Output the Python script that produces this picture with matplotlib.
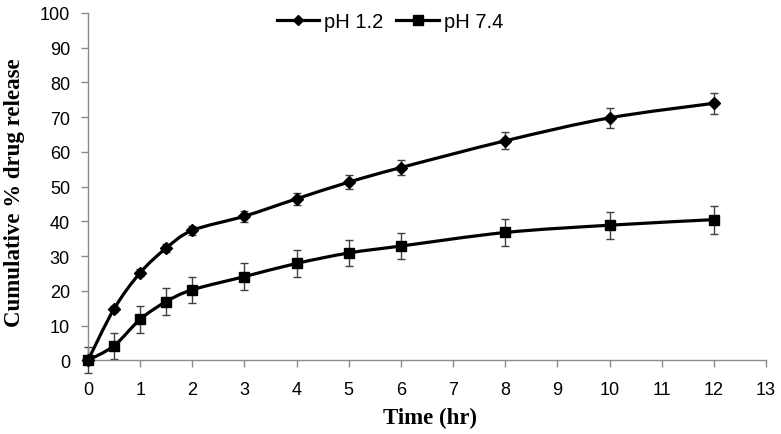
import matplotlib
matplotlib.use("Agg")
import matplotlib.pyplot as plt
from matplotlib.path import Path
from matplotlib.patches import PathPatch
from matplotlib.lines import Line2D
import numpy as np

time_hr = [0, 0.5, 1, 1.5, 2, 3, 4, 5, 6, 8, 10, 12]
ph12 = [0, 14.8, 25.2, 32.3, 37.4, 41.5, 46.5, 51.3, 55.5, 63.2, 69.8, 74.0]
ph12_err = [0.5, 0.8, 1.0, 1.2, 1.4, 1.6, 1.8, 2.0, 2.2, 2.5, 2.9, 3.0]
ph74 = [0, 4.2, 11.8, 16.9, 20.3, 24.1, 27.9, 30.9, 32.9, 36.8, 38.9, 40.5]
ph74_err = [3.8, 3.8, 3.8, 3.8, 3.8, 3.8, 3.8, 3.8, 3.8, 3.8, 3.9, 4.0]
xticks = list(range(0, 14))
yticks = list(range(0, 101, 10))

fig = plt.figure(figsize=(7.81, 4.35), dpi=100)
ax = fig.add_axes([88/781, 73.7/435, (766-88)/781, (361.3-14)/435])

def smooth_path(x, y):
    P = np.column_stack([x, y]).astype(float)
    n = len(P)
    verts = [P[0]]
    codes = [Path.MOVETO]
    for i in range(n - 1):
        p0 = P[i-1] if i > 0 else P[i]
        p1 = P[i]
        p2 = P[i+1]
        p3 = P[i+2] if i + 2 < n else P[i+1]
        c1 = p1 + (p2 - p0) / 6.0
        c2 = p2 - (p3 - p1) / 6.0
        verts += [c1, c2, p2]
        codes += [Path.CURVE4] * 3
    return Path(verts, codes)

for y, err, mk, ms in [(ph12, ph12_err, "D", 6), (ph74, ph74_err, "s", 7.5)]:
    ax.add_patch(PathPatch(smooth_path(time_hr, y), fill=False, lw=2.3,
                           edgecolor="black", zorder=3, clip_on=False))
    ax.errorbar(time_hr, y, yerr=err, fmt="none", ecolor="#404040",
                elinewidth=1.0, capsize=3, capthick=1.0, zorder=2,
                clip_on=False)
    ax.plot(time_hr, y, linestyle="none", marker=mk, markersize=ms,
            color="black", zorder=4, clip_on=False)

ax.set_xlim(0, 13)
ax.set_ylim(0, 100)
ax.set_xticks(xticks)
ax.set_yticks(yticks)
for s in ["top", "right"]:
    ax.spines[s].set_visible(False)
for s in ["left", "bottom"]:
    ax.spines[s].set_color("#8c8c8c")
    ax.spines[s].set_linewidth(1.0)
ax.tick_params(axis="both", direction="out", color="#8c8c8c", length=5,
               width=1.0, labelsize=13, labelcolor="black")
ax.tick_params(axis="y", pad=8)
ax.tick_params(axis="x", pad=10)
for lab in ax.get_xticklabels() + ax.get_yticklabels():
    lab.set_fontfamily("Liberation Sans")

handles = [Line2D([], [], color="black", lw=2.3, marker="D", markersize=5),
           Line2D([], [], color="black", lw=2.3, marker="s", markersize=7)]
fig.legend(handles, ["pH 1.2", "pH 7.4"], loc="center",
           bbox_to_anchor=(390/781, 1 - 23/435), ncol=2, frameon=False,
           prop={"family": "Liberation Sans", "size": 14.5},
           handlelength=2.1, handletextpad=0.25, columnspacing=0.65)

fig.text(15/781, 1 - 193/435, "Cumulative % drug release", rotation=90,
         ha="center", va="center", fontfamily="Liberation Serif",
         fontweight="bold", fontsize=16.5)
fig.text(430/781, 1 - 418/435, "Time (hr)", ha="center", va="center",
         fontfamily="Liberation Serif", fontweight="bold", fontsize=16.5)

fig.savefig("out.png", dpi=100)
